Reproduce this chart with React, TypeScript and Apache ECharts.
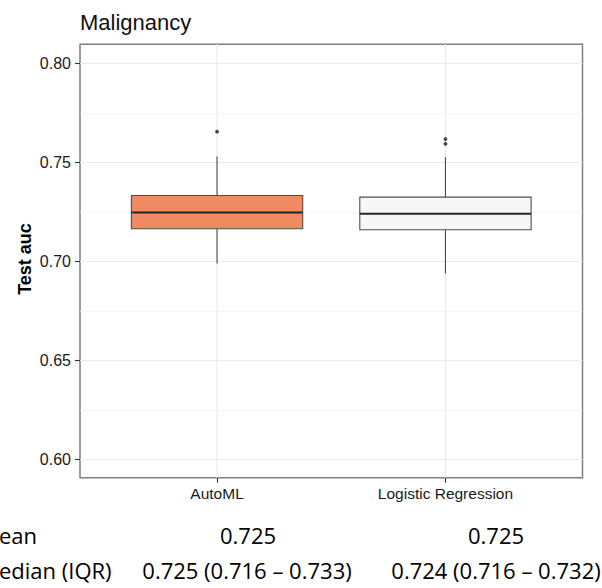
import React, { useEffect, useRef } from "react";
import * as echarts from "echarts";

const categories = ["AutoML", "Logistic Regression"];
const lowerWhisker = [0.699, 0.694];
const q1 = [0.7165, 0.716];
const median = [0.7247, 0.7241];
const q3 = [0.7333, 0.7325];
const upperWhisker = [0.753, 0.7527];
const outlierCategory = [1, 2, 2];
const outlierValue = [0.7655, 0.7618, 0.7594];
const yTicks = [0.6, 0.65, 0.7, 0.75, 0.8];
const meanTexts = ["0.725", "0.725"];
const medianIqrTexts = ["0.725 (0.716 \u2013 0.733)", "0.724 (0.716 \u2013 0.732)"];

const fills = ["#EF8A62", "#F7F7F7"];

export default function App() {
  const ref = useRef<HTMLDivElement>(null);
  useEffect(() => {
    if (!ref.current) return;
    const chart = echarts.init(ref.current, undefined, { renderer: "svg" });
    const boxData = categories.map((_, i) => [
      i + 1,
      lowerWhisker[i],
      q1[i],
      median[i],
      q3[i],
      upperWhisker[i],
    ]);
    const outData = outlierCategory.map((c, i) => [c, outlierValue[i]]);
    const font = "Liberation Sans";
    const bottomFont = "Open Sans";
    const option: any = {
      animation: false,
      backgroundColor: "#ffffff",
      title: {
        text: "Malignancy",
        left: 75,
        top: 6,
        textStyle: { fontFamily: font, fontSize: 22, fontWeight: "normal", color: "#111" },
      },
      grid: {
        left: 80,
        right: 19.5,
        top: 44.3,
        bottom: 110.3,
        show: true,
        borderColor: "#7f7f7f",
        borderWidth: 1.5,
        backgroundColor: "transparent",
      },
      xAxis: {
        type: "value",
        min: 0.4,
        max: 2.6,
        axisLine: { show: false },
        axisTick: { show: true, length: 5, customValues: [1, 2], lineStyle: { color: "#333", width: 1.1 } },
        axisLabel: {
          customValues: [1, 2],
          margin: 8,
          fontFamily: font,
          fontSize: 15.5,
          color: "#1a1a1a",
          formatter: (v: number) =>
            Math.abs(v - Math.round(v)) < 1e-6 && categories[Math.round(v) - 1]
              ? categories[Math.round(v) - 1]
              : "",
        },
        splitLine: { show: false },
      },
      yAxis: {
        type: "value",
        min: 0.5909,
        max: 0.8096,
        axisLine: { show: false },
        axisTick: { show: true, length: 5, customValues: yTicks, lineStyle: { color: "#333", width: 1.1 } },
        axisLabel: {
          customValues: yTicks,
          margin: 9,
          fontFamily: font,
          fontSize: 16,
          color: "#1a1a1a",
          formatter: (v: number) => v.toFixed(2),
        },
        splitLine: { show: true, lineStyle: { color: "#ebebeb", width: 1.2 } },
        minorTick: { show: false, splitNumber: 2 },
        minorSplitLine: { show: true, lineStyle: { color: "#f2f2f2", width: 0.7 } },
      },
      graphic: [
        {
          type: "text",
          x: 25,
          y: 259,
          rotation: Math.PI / 2,
          style: {
            text: "Test auc",
            fontFamily: font,
            fontSize: 18,
            fontWeight: "bold",
            fill: "#000",
            align: "center",
            verticalAlign: "middle",
          },
        },
        {
          type: "text",
          x: -1,
          y: 535,
          style: { text: "ean", fontFamily: bottomFont, fontSize: 22, fill: "#000", align: "left", verticalAlign: "middle" },
        },
        {
          type: "text",
          x: -1,
          y: 570,
          style: { text: "edian (IQR)", fontFamily: bottomFont, fontSize: 22, fill: "#000", align: "left", verticalAlign: "middle" },
        },
        {
          type: "text",
          x: 248,
          y: 535,
          style: { text: meanTexts[0], fontFamily: bottomFont, fontSize: 22, fill: "#000", align: "center", verticalAlign: "middle" },
        },
        {
          type: "text",
          x: 496,
          y: 535,
          style: { text: meanTexts[1], fontFamily: bottomFont, fontSize: 22, fill: "#000", align: "center", verticalAlign: "middle" },
        },
        {
          type: "text",
          x: 247,
          y: 570,
          style: { text: medianIqrTexts[0], fontFamily: bottomFont, fontSize: 22, fill: "#000", align: "center", verticalAlign: "middle" },
        },
        {
          type: "text",
          x: 496,
          y: 570,
          style: { text: medianIqrTexts[1], fontFamily: bottomFont, fontSize: 22, fill: "#000", align: "center", verticalAlign: "middle" },
        },
      ],
      series: [
        {
          type: "custom",
          data: boxData,
          z: 2,
          renderItem: (params: any, api: any) => {
            const x = api.value(0);
            const lw = api.value(1);
            const lq = api.value(2);
            const md = api.value(3);
            const uq = api.value(4);
            const uw = api.value(5);
            const cs = params.coordSys;
            const half = api.size([0.75, 0])[0] / 2;
            const pLw = api.coord([x, lw]);
            const pLq = api.coord([x, lq]);
            const pMd = api.coord([x, md]);
            const pUq = api.coord([x, uq]);
            const pUw = api.coord([x, uw]);
            const cx = pMd[0];
            const stroke = "#4d4d4d";
            return {
              type: "group",
              children: [
                {
                  type: "line",
                  shape: { x1: cx, y1: cs.y, x2: cx, y2: cs.y + cs.height },
                  style: { stroke: "#ebebeb", lineWidth: 1.2 },
                },
                {
                  type: "line",
                  shape: { x1: cx, y1: pUw[1], x2: cx, y2: pUq[1] },
                  style: { stroke, lineWidth: 1.1 },
                },
                {
                  type: "line",
                  shape: { x1: cx, y1: pLq[1], x2: cx, y2: pLw[1] },
                  style: { stroke, lineWidth: 1.1 },
                },
                {
                  type: "rect",
                  shape: { x: cx - half, y: pUq[1], width: half * 2, height: pLq[1] - pUq[1] },
                  style: { fill: fills[params.dataIndex], stroke, lineWidth: 1.1 },
                },
                {
                  type: "line",
                  shape: { x1: cx - half, y1: pMd[1], x2: cx + half, y2: pMd[1] },
                  style: { stroke: "#262626", lineWidth: 2 },
                },
              ],
            };
          },
        },
        {
          type: "scatter",
          data: outData,
          z: 3,
          symbol: "circle",
          symbolSize: 3.8,
          itemStyle: { color: "#1a1a1a" },
        },
      ],
    };
    chart.setOption(option);
    return () => chart.dispose();
  }, []);
  return (
    <div
      ref={ref}
      style={{ position: "fixed", left: 0, top: 0, width: 602, height: 588, background: "#fff" }}
    />
  );
}
